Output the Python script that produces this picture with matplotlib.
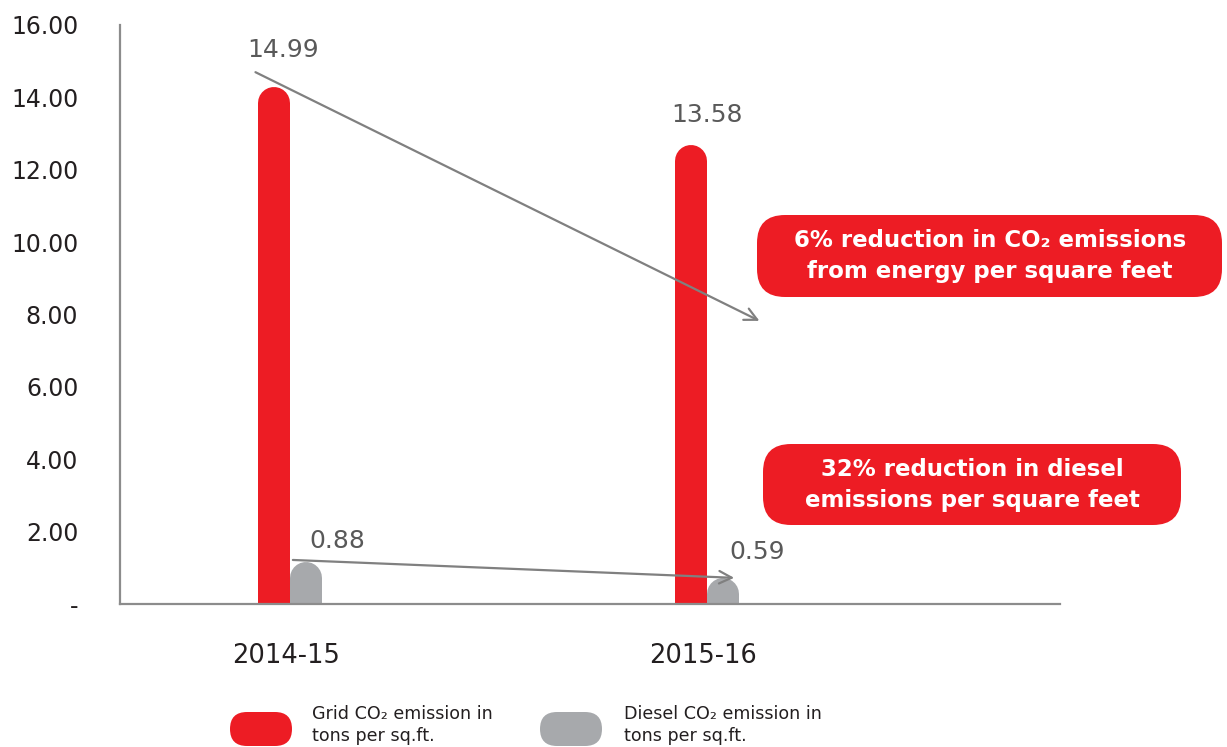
import matplotlib
matplotlib.use('Agg')
import matplotlib.pyplot as plt
from matplotlib.patches import FancyBboxPatch

plt.rcParams['font.family'] = ['DejaVu Sans']

years = ['2014-15', '2015-16']
grid = [14.3, 12.68]          # drawn bar heights
diesel = [1.16, 0.72]
grid_labels = ['14.99', '13.58']
diesel_labels = ['0.88', '0.59']
yticks = [0, 2, 4, 6, 8, 10, 12, 14, 16]
ytick_labels = ['-', '2.00', '4.00', '6.00', '8.00', '10.00', '12.00', '14.00', '16.00']
notes = ['6% reduction in CO\u2082 emissions\nfrom energy per square feet',
         '32% reduction in diesel\nemissions per square feet']
legend_labels = ['Grid CO\u2082 emission in\ntons per sq.ft.',
                 'Diesel CO\u2082 emission in\ntons per sq.ft.']

RED = '#ed1c24'
GREY = '#a7a9ac'
LINE = '#808080'
W, H = 1227, 747

fig = plt.figure(figsize=(W / 100, H / 100), dpi=100)
ax = fig.add_axes([120 / W, 1 - 604 / H, (1060 - 120) / W, (604 - 25) / H])
ax.set_xlim(-0.408, 1.847)
ax.set_ylim(0, 16)

px_per_unit = (604 - 25) / 16.0
px_per_x = 417.0
bw = 32 / px_per_x
r = 16 / px_per_unit
lw = 32 * 72 / 100

for i in range(len(years)):
    ax.plot([i - bw / 2, i - bw / 2], [0, grid[i] - r], color=RED, lw=lw,
            solid_capstyle='round')
    ax.plot([i + bw / 2, i + bw / 2], [0, diesel[i] - r], color=GREY, lw=lw,
            solid_capstyle='round')

# value labels
lab = dict(ha='center', va='center', fontsize=18, color='#595959')
ax.text(-0.017, 15.3, grid_labels[0], **lab)
ax.text(1.0, 13.5, grid_labels[1], **lab)
ax.text(0.113, 1.75, diesel_labels[0], **lab)
ax.text(1.12, 1.44, diesel_labels[1], **lab)

# trend arrows
ax.annotate('', xy=(1.132, 7.79), xytext=(-0.089, 14.73),
            arrowprops=dict(arrowstyle='->,head_length=0.9,head_width=0.45', color=LINE, lw=1.6))
ax.annotate('', xy=(1.072, 0.72), xytext=(0.0, 1.22),
            arrowprops=dict(arrowstyle='->,head_length=0.9,head_width=0.45', color=LINE, lw=1.6))

ax.set_yticks(yticks)
ax.set_yticklabels(ytick_labels, fontsize=17, color='#231f20')
ax.set_xticks([-0.01, 0.99])
ax.set_xticklabels(years, fontsize=18.5, color='#231f20')
ax.tick_params(axis='y', length=0, pad=30)
ax.tick_params(axis='x', length=0, pad=28)
for s in ['top', 'right']:
    ax.spines[s].set_visible(False)
for s in ['left', 'bottom']:
    ax.spines[s].set_color('#8c8c8c')
    ax.spines[s].set_linewidth(1.6)


def fbox(x0, y0, x1, y1, color, rad):
    p = FancyBboxPatch((x0 / W, 1 - y1 / H), (x1 - x0) / W, (y1 - y0) / H,
                       boxstyle='round,pad=0,rounding_size=%f' % (rad / W),
                       mutation_aspect=W / H, transform=fig.transFigure,
                       facecolor=color, edgecolor='none')
    fig.add_artist(p)


# callout boxes
fbox(757, 215, 1222, 297, RED, 28)
fig.text(990 / W, 1 - 256 / H, notes[0], ha='center', va='center', fontsize=16.5,
         fontweight='bold', color='white', linespacing=1.45)
fbox(763, 444, 1181, 525, RED, 28)
fig.text(972 / W, 1 - 485 / H, notes[1], ha='center', va='center', fontsize=16.5,
         fontweight='bold', color='white', linespacing=1.45)

# legend
fbox(230, 712, 292, 746, RED, 17)
fig.text(312 / W, 1 - 725 / H, legend_labels[0], ha='left', va='center', fontsize=12.6,
         color='#231f20', linespacing=1.35)
fbox(540, 712, 602, 746, GREY, 17)
fig.text(624 / W, 1 - 725 / H, legend_labels[1], ha='left', va='center', fontsize=12.6,
         color='#231f20', linespacing=1.35)

fig.savefig('out.png', dpi=100)
